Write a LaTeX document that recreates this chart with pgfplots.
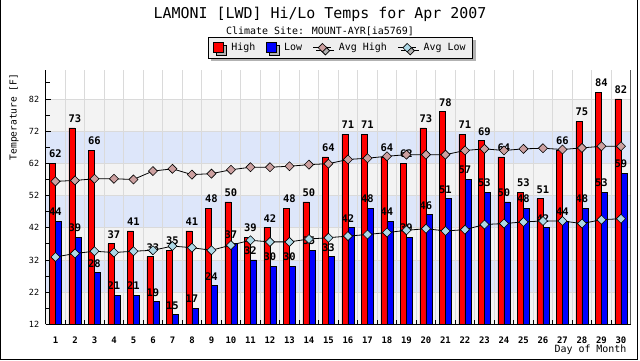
\documentclass[border=0pt]{standalone}
\usepackage{pgfplots}
\pgfplotsset{compat=1.18}
\usepackage{pgfplotstable}
\usepackage{fontspec}
\setmainfont{DejaVu Sans Mono}
\usetikzlibrary{shadows}
\definecolor{bandgray}{RGB}{243,243,243}
\definecolor{bandblue}{RGB}{221,230,250}
\definecolor{gridc}{RGB}{218,218,218}
\definecolor{avghi}{RGB}{204,160,160}
\definecolor{avglo}{RGB}{173,216,230}
\definecolor{legbg}{RGB}{238,238,238}
\newcommand\fs[1]{\fontsize{#1}{#1}\selectfont}
\pgfplotstableread{
day high low avghi avglo
1 62 44 56.4 32.9
2 73 39 56.7 34.0
3 66 28 57.2 34.7
4 37 21 57.2 34.3
5 41 21 57.0 34.7
6 33 19 59.6 35.0
7 35 15 60.3 36.3
8 41 17 58.5 35.8
9 48 24 58.8 35.0
10 50 37 60.0 36.6
11 39 32 60.8 38.1
12 42 30 60.8 37.6
13 48 30 61.1 37.6
14 50 35 61.6 38.5
15 64 33 61.9 38.9
16 71 42 63.2 39.4
17 71 48 63.6 39.9
18 64 44 64.2 40.5
19 62 39 64.7 41.2
20 73 46 64.7 41.7
21 78 51 64.7 41.0
22 71 57 66.0 41.4
23 69 53 66.5 43.0
24 64 50 66.0 43.3
25 53 48 66.5 43.8
26 51 42 66.7 44.1
27 66 44 66.3 44.1
28 75 48 66.8 43.3
29 84 53 67.3 44.5
30 82 59 67.3 44.8
}\data
\begin{document}
\begin{tikzpicture}[x=1bp,y=1bp]
\draw[line width=1bp] (0.5,360) -- (0.5,0.5) -- (637.5,0.5) -- (637.5,360);
\begin{axis}[
  at={(45.7bp,35.7bp)}, anchor=south west,
  scale only axis, width=585bp, height=254.3bp,
  xmin=0.5, xmax=30.5, ymin=12, ymax=91,
  set layers,
  axis x line*=bottom, axis y line*=left,
  axis line style={line width=1bp},
  xtick={1,...,30}, minor xtick={1.5,2.5,...,29.5},
  major x tick style={draw=none},
  xminorgrids, minor grid style={gridc, line width=0.8bp},
  ytick={12,22,...,82}, minor ytick={17,27,...,87},
  ymajorgrids, major grid style={gridc, line width=0.8bp},
  tick align=inside,
  major tick length=5bp, minor tick length=4bp,
  tick style={black, line width=0.8bp},
  /pgf/number format/assume math mode=true,
  yticklabel style={font=\fs{8.5}, xshift=-3bp},
  xticklabel style={font=\bfseries\fs{9}, yshift=-9bp},
  legend columns=4,
  legend cell align=left,
  legend style={at={(axis description cs:0.504,1.13)}, anchor=north,
    draw=black, fill=legbg, font=\fs{10},
    drop shadow={shadow xshift=3bp, shadow yshift=-3bp, fill=black!30, opacity=1},
    inner xsep=5bp, inner ysep=4bp,
    /tikz/every even column/.append style={column sep=9bp}},
]
\begin{pgfonlayer}{axis background}
\fill[bandgray] (axis cs:0.5,72) rectangle (axis cs:30.5,82);
\fill[bandblue] (axis cs:0.5,62) rectangle (axis cs:30.5,72);
\fill[bandgray] (axis cs:0.5,52) rectangle (axis cs:30.5,62);
\fill[bandblue] (axis cs:0.5,42) rectangle (axis cs:30.5,52);
\fill[bandgray] (axis cs:0.5,32) rectangle (axis cs:30.5,42);
\fill[bandblue] (axis cs:0.5,22) rectangle (axis cs:30.5,32);
\fill[bandgray] (axis cs:0.5,12) rectangle (axis cs:30.5,22);
\end{pgfonlayer}
\addplot[ybar, bar width=0.31, bar shift=-0.155, draw=black, fill=red, line width=0.8bp,
  nodes near coords, every node near coord/.append style={font=\bfseries\fs{10.5}, anchor=south, inner sep=0pt, yshift=5bp, black},
  legend image code/.code={\draw[black,fill=red] (0bp,-5bp) rectangle (10bp,5bp);}]
  table[x=day, y=high] {\data};
\addlegendentry{\hspace{5bp}High}
\addplot[ybar, bar width=0.31, bar shift=0.155, draw=black, fill=blue, line width=0.8bp,
  nodes near coords, every node near coord/.append style={font=\bfseries\fs{10.5}, anchor=south, inner sep=0pt, yshift=5bp, black},
  legend image code/.code={\draw[black,fill=blue] (0bp,-5bp) rectangle (10bp,5bp);}]
  table[x=day, y=low] {\data};
\addlegendentry{\hspace{5bp}Low}
\addplot[black, line width=0.8bp, mark=square*, mark size=3.2bp,
  mark options={rotate=45, fill=avghi, draw=black, line width=0.6bp},
  legend image code/.code={\draw[black, line width=0.8bp] (0bp,0bp) -- (18bp,0bp);
    \draw[black, fill=avghi, line width=0.6bp, rotate around={45:(9bp,0bp)}] (6bp,-3bp) rectangle (12bp,3bp);}]
  table[x=day, y=avghi] {\data};
\addlegendentry{\hspace{5bp}Avg High}
\addplot[black, line width=0.8bp, mark=square*, mark size=3.2bp,
  mark options={rotate=45, fill=avglo, draw=black, line width=0.6bp},
  legend image code/.code={\draw[black, line width=0.8bp] (0bp,0bp) -- (18bp,0bp);
    \draw[black, fill=avglo, line width=0.6bp, rotate around={45:(9bp,0bp)}] (6bp,-3bp) rectangle (12bp,3bp);}]
  table[x=day, y=avglo] {\data};
\addlegendentry{\hspace{5bp}Avg Low}
\draw[line width=1bp] (rel axis cs:1,0) -- (rel axis cs:1,1);
\end{axis}
\node[font=\fs{15}] at (320,346) {LAMONI [LWD] Hi/Lo Temps for Apr 2007};
\node[font=\fs{10}] at (320,328.5) {Climate Site: MOUNT-AYR[ia5769]};
\node[rotate=90, font=\fs{9.6}] at (14,243) {Temperature [F]};
\node[anchor=east, font=\fs{10}] at (630,10) {Day of Month};
\pgfresetboundingbox
\path (0,0) rectangle (640,360);
\end{tikzpicture}
\end{document}
